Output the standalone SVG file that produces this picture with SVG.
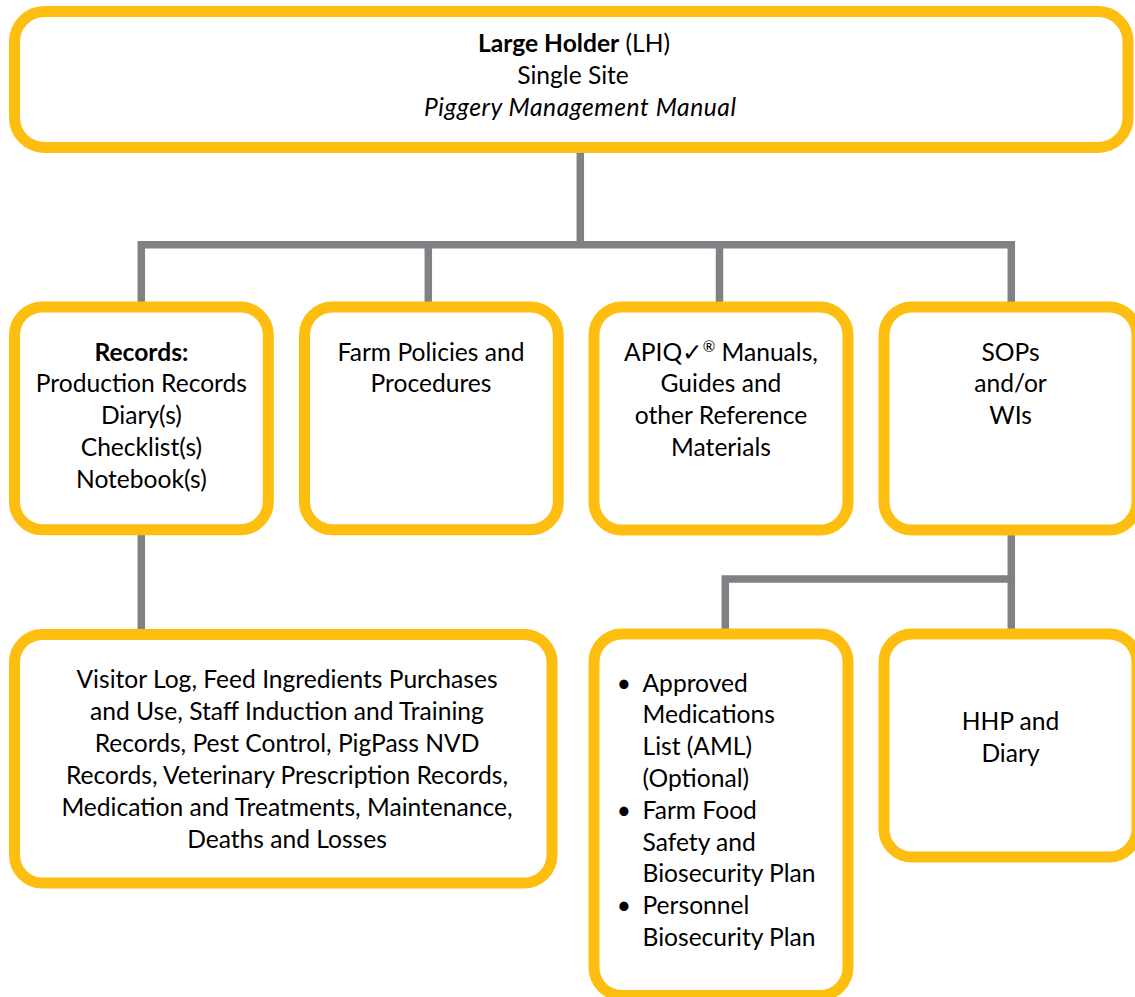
<svg xmlns="http://www.w3.org/2000/svg" width="1135" height="997" viewBox="0 0 1135 997">
<style>
.box{fill:#ffffff;stroke:#FEBE10;stroke-width:11}
.con{fill:none;stroke:#808184;stroke-width:7.5;stroke-linejoin:miter;stroke-linecap:butt}
text{font-family:Lato,"Liberation Sans","DejaVu Sans",sans-serif;font-size:24.6px;fill:#000}
.c{text-anchor:middle}
.b{font-weight:bold}
.i{font-style:italic}
</style>
<rect width="1135" height="997" fill="#ffffff"/>
<g id="connectors">
<path class="con" d="M580.3 147.5 V244.7"/>
<path class="con" d="M141.3 307 V244.7 H1011.3 V307"/>
<path class="con" d="M428.3 244.7 V307"/>
<path class="con" d="M719.5 244.7 V307"/>
<path class="con" d="M141.3 529.7 V634.5"/>
<path class="con" d="M1011.3 530 V634"/>
<path class="con" d="M725.3 634 V579 H1011.3"/>
</g>
<g id="node-lh">
<rect class="box" x="14.5" y="11.5" width="1113.5" height="136" rx="30"/>
<text class="c" x="574" y="52"><tspan class="b">Large Holder</tspan> (LH)</text>
<text class="c" x="573" y="84">Single Site</text>
<text class="c i" x="580" y="116" textLength="312" lengthAdjust="spacing">Piggery Management Manual</text>
</g>
<g id="node-records">
<rect class="box" x="14.5" y="307" width="253.8" height="222.7" rx="28"/>
<text class="c b" x="141.4" y="360.5">Records:</text>
<text class="c" x="141.4" y="392.3">Production Records</text>
<text class="c" x="141.4" y="424">Diary(s)</text>
<text class="c" x="141.4" y="455.8">Checklist(s)</text>
<text class="c" x="141.4" y="487.7">Notebook(s)</text>
</g>
<g id="node-policies">
<rect class="box" x="304.5" y="307" width="253.8" height="222.7" rx="28"/>
<text class="c" x="431" y="360.7">Farm Policies and</text>
<text class="c" x="431" y="392.3">Procedures</text>
</g>
<g id="node-apiq">
<rect class="box" x="594" y="307" width="254" height="223" rx="28"/>
<text class="c" x="721" y="360.7">APIQ✓<tspan font-size="15" dy="-9">®</tspan><tspan dy="9"> Manuals,</tspan></text>
<text class="c" x="721" y="392.3">Guides and</text>
<text class="c" x="721" y="424">other Reference</text>
<text class="c" x="721" y="456">Materials</text>
</g>
<g id="node-sops">
<rect class="box" x="884" y="307" width="253" height="223" rx="28"/>
<text class="c" x="1010.5" y="360.7">SOPs</text>
<text class="c" x="1010.5" y="392.3">and/or</text>
<text class="c" x="1010.5" y="424">WIs</text>
</g>
<g id="node-logs">
<rect class="box" x="14.5" y="634.5" width="537.5" height="248.5" rx="28"/>
<text class="c" x="287" y="688">Visitor Log, Feed Ingredients Purchases</text>
<text class="c" x="287" y="720">and Use, Staff Induction and Training</text>
<text class="c" x="287" y="752">Records, Pest Control, PigPass NVD</text>
<text class="c" x="287" y="784">Records, Veterinary Prescription Records,</text>
<text class="c" x="287" y="816">Medication and Treatments, Maintenance,</text>
<text class="c" x="287" y="848">Deaths and Losses</text>
</g>
<g id="node-plans">
<rect class="box" x="594" y="634" width="254" height="361.5" rx="28"/>
<text class="c" x="624" y="691.7">•</text>
<text x="642.5" y="691.7">Approved</text>
<text x="642.5" y="723.4">Medications</text>
<text x="642.5" y="755.2">List (AML)</text>
<text x="642.5" y="787">(Optional)</text>
<text class="c" x="624" y="818.7">•</text>
<text x="642.5" y="818.7">Farm Food</text>
<text x="642.5" y="850.5">Safety and</text>
<text x="642.5" y="882.3">Biosecurity Plan</text>
<text class="c" x="624" y="914.1">•</text>
<text x="642.5" y="914.1">Personnel</text>
<text x="642.5" y="945.9">Biosecurity Plan</text>
</g>
<g id="node-hhp">
<rect class="box" x="884" y="634" width="253" height="223" rx="28"/>
<text class="c" x="1010.5" y="730">HHP and</text>
<text class="c" x="1010.5" y="761.7">Diary</text>
</g>
</svg>
